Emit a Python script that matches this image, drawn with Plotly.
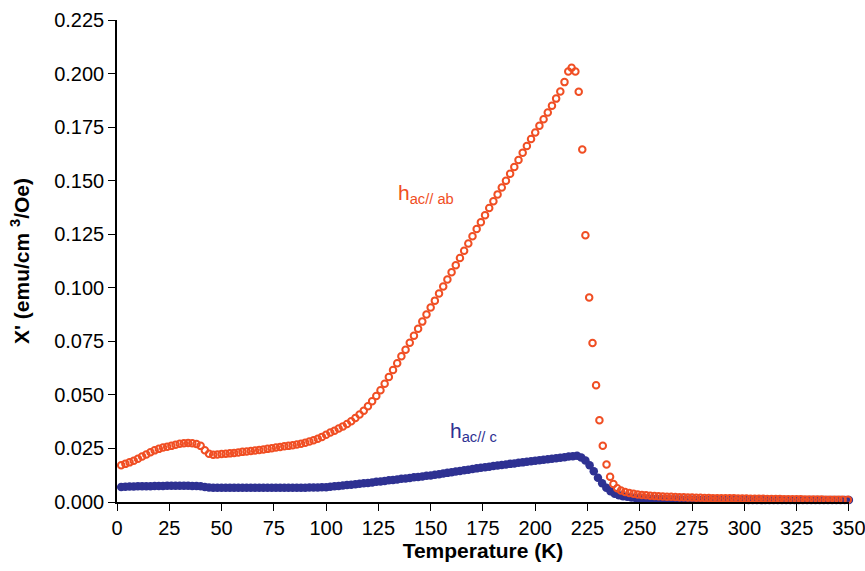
import plotly.graph_objects as go

# ---------------- data ----------------
# h_ac // ab  (orange open circles)
T_ab = [
    2, 4, 6, 8, 10, 12, 14, 16, 18, 20, 22, 24, 26, 28, 30, 32, 34, 36, 38, 40,
    42, 44, 46, 48, 50, 52, 54, 56, 58, 60, 62, 64, 66, 68, 70, 72, 74, 76, 78, 80,
    82, 84, 86, 88, 90, 92, 94, 96, 98, 100, 102, 104, 106, 108, 110, 112, 114, 116, 118, 120,
    122, 124, 126, 128, 130, 132, 134, 136, 138, 140, 142, 144, 146, 148, 150, 152, 154, 156, 158, 160,
    162, 164, 166, 168, 170, 172, 174, 176, 178, 180, 182, 184, 186, 188, 190, 192, 194, 196, 198, 200,
    202, 204, 206, 208, 210, 212, 214,
    215.8, 217.4, 219.2, 220.8, 222.5, 224.0, 225.8, 227.4, 229.1, 230.7, 232.3, 234.1, 235.8, 237.4, 239.2,
    241, 243, 245, 247, 249, 251, 253, 255, 257, 259, 261, 263, 265, 267, 269, 271, 273, 275, 277, 279,
    281, 283, 285, 287, 289, 291, 293, 295, 297, 299, 301, 303, 305, 307, 309, 311, 313, 315, 317, 319,
    321, 323, 325, 327, 329, 331, 333, 335, 337, 339, 341, 343, 345, 347, 349.5,
]
chi_ab = [
    .0172, .0178, .0185, .0193, .0202, .0212, .0222, .0232, .0241, .0248, .0254, .0258, .0262, .0267, .0272, .0274, .0275, .0274, .0271, .0262,
    .0242, .0225, .0221, .0222, .0224, .0225, .0227, .0229, .0231, .0234, .0236, .0238, .0240, .0243, .0245, .0248, .0251, .0254, .0257, .0260,
    .0262, .0265, .0268, .0272, .0277, .0282, .0288, .0295, .0304, .0314, .0324, .0333, .0343, .0353, .0364, .0377, .0392, .0408, .0426, .0447,
    .0470, .0495, .0522, .0552, .0584, .0616, .0648, .0680, .0711, .0743, .0776, .0809, .0842, .0875, .0908, .0940, .0973, .1006, .1039, .1072,
    .1105, .1139, .1173, .1207, .1241, .1274, .1306, .1339, .1372, .1404, .1436, .1468, .1500, .1532, .1564, .1597, .1630, .1662, .1694, .1725,
    .1756, .1787, .1818, .1850, .1883, .1916, .1960,
    .2010, .2027, .2010, .1915, .1645, .1245, .0955, .0742, .0545, .0382, .0263, .0175, .0118, .0084, .0064,
    .0054, .0047, .0042, .0038, .0035, .0033, .0031, .0029, .0028, .0027, .0026, .0025, .0024, .0023, .0022, .0022, .0021, .0021, .0020, .0020,
    .0019, .0019, .0018, .0018, .0018, .0017, .0017, .0017, .0016, .0016, .0016, .0015, .0015, .0015, .0015, .0014, .0014, .0014, .0014, .0013,
    .0013, .0013, .0013, .0013, .0012, .0012, .0012, .0012, .0012, .0011, .0011, .0011, .0011, .0011, .0011,
]

# h_ac // c  (dark blue, dense markers)
T_c = [
    2, 4, 6, 8, 10, 12, 14, 16, 18, 20, 22, 24, 26, 28, 30, 32, 34, 36, 38, 40,
    42, 44, 46, 48, 50, 52, 54, 56, 58, 60, 62, 64, 66, 68, 70, 72, 74, 76, 78, 80,
    82, 84, 86, 88, 90, 92, 94, 96, 98, 100, 102, 104, 106, 108, 110, 112, 114, 116, 118, 120,
    122, 124, 126, 128, 130, 132, 134, 136, 138, 140, 142, 144, 146, 148, 150, 152, 154, 156, 158, 160,
    162, 164, 166, 168, 170, 172, 174, 176, 178, 180, 182, 184, 186, 188, 190, 192, 194, 196, 198, 200,
    202, 204, 206, 208, 210, 212, 214, 216, 218, 220, 222, 224, 226, 228, 230, 232, 234, 236, 238, 240,
    242, 244, 246, 248, 250, 252, 254, 256, 258, 260, 262, 264, 266, 268, 270, 272, 274, 276, 278, 280,
    282, 284, 286, 288, 290, 292, 294, 296, 298, 300, 302, 304, 306, 308, 310, 312, 314, 316, 318, 320,
    322, 324, 326, 328, 330, 332, 334, 336, 338, 340, 342, 344, 346, 348, 350,
]
chi_c = [
    .0070, .0071, .0072, .0072, .0073, .0073, .0074, .0074, .0075, .0075, .0075, .0076, .0076, .0076, .0076, .0076, .0076, .0075, .0075, .0073,
    .0070, .0068, .0067, .0066, .0066, .0066, .0066, .0066, .0066, .0066, .0066, .0066, .0066, .0066, .0066, .0066, .0066, .0066, .0066, .0066,
    .0067, .0067, .0067, .0067, .0067, .0068, .0068, .0068, .0069, .0069, .0071, .0073, .0075, .0077, .0079, .0081, .0083, .0085, .0087, .0089,
    .0091, .0094, .0096, .0098, .0101, .0103, .0105, .0108, .0110, .0112, .0115, .0117, .0119, .0122, .0124, .0127, .0130, .0133, .0136, .0139,
    .0142, .0145, .0148, .0151, .0154, .0157, .0160, .0162, .0165, .0168, .0170, .0173, .0175, .0178, .0180, .0183, .0185, .0188, .0190, .0193,
    .0195, .0197, .0200, .0202, .0204, .0207, .0209, .0212, .0214, .0216, .0208, .0194, .0172, .0144, .0113, .0087, .0066, .0050, .0039, .0031,
    .0027, .0024, .0021, .0019, .0018, .0017, .0016, .0015, .0015, .0014, .0014, .0013, .0013, .0013, .0012, .0012, .0012, .0012, .0011, .0011,
    .0011, .0011, .0011, .0010, .0010, .0010, .0010, .0010, .0010, .0010, .0009, .0009, .0009, .0009, .0009, .0009, .0009, .0009, .0009, .0009,
    .0009, .0009, .0009, .0009, .0009, .0009, .0009, .0009, .0009, .0009, .0009, .0009, .0009, .0009, .0009,
]

assert len(T_ab) == len(chi_ab), (len(T_ab), len(chi_ab))
assert len(T_c) == len(chi_c), (len(T_c), len(chi_c))

x_ticks = [0, 25, 50, 75, 100, 125, 150, 175, 200, 225, 250, 275, 300, 325, 350]
y_ticks = [0.000, 0.025, 0.050, 0.075, 0.100, 0.125, 0.150, 0.175, 0.200, 0.225]

label_ab = "h<sub>ac// ab</sub>"
label_c = "h<sub>ac// c</sub>"
x_title = "<b>Temperature (K)</b>"
y_title = "<b>X' (emu/cm <sup>3</sup>/Oe)</b>"

ORANGE = "#F04E23"
BLUE = "#2E3192"
FONT = "Liberation Sans, Arial, sans-serif"

# ---------------- figure ----------------
fig = go.Figure()
fig.add_trace(go.Scatter(
    x=T_c, y=chi_c, mode="markers", cliponaxis=False,
    marker=dict(symbol="circle", size=8.5, color=BLUE, line=dict(width=0)),
    showlegend=False, hoverinfo="skip",
))
fig.add_trace(go.Scatter(
    x=T_ab, y=chi_ab, mode="markers", cliponaxis=False,
    marker=dict(symbol="circle-open", size=6.5, color=ORANGE, line=dict(width=2, color=ORANGE)),
    showlegend=False, hoverinfo="skip",
))

fig.add_annotation(x=133.5, y=0.1440, text=label_ab, showarrow=False,
                   xanchor="left", yanchor="middle",
                   font=dict(family=FONT, size=21, color=ORANGE))
fig.add_annotation(x=158.5, y=0.0325, text=label_c, showarrow=False,
                   xanchor="left", yanchor="middle",
                   font=dict(family=FONT, size=21, color=BLUE))

fig.update_layout(
    width=865, height=571,
    margin=dict(l=117, r=16, t=20, b=69, pad=0, autoexpand=False),
    paper_bgcolor="white", plot_bgcolor="white",
    font=dict(family=FONT, size=20, color="black"),
    xaxis=dict(
        range=[0, 350.05], tickvals=x_ticks, ticktext=[str(v) for v in x_ticks],
        showgrid=False, zeroline=False, ticklabeloverflow="allow", automargin=False,
        showline=True, linecolor="black", linewidth=1.5,
        ticks="outside", ticklen=7, tickwidth=1.2, tickcolor="black",
        tickfont=dict(family=FONT, size=20),
        title=dict(text=x_title, font=dict(family=FONT, size=21), standoff=3),
    ),
    yaxis=dict(
        range=[0, 0.225], tickvals=y_ticks, ticktext=[f"{v:.3f}" for v in y_ticks],
        showgrid=False, zeroline=False, automargin=False,
        showline=True, linecolor="black", linewidth=1.5,
        ticks="outside", ticklen=7, tickwidth=1.2, tickcolor="black",
        tickfont=dict(family=FONT, size=20),
        title=dict(text=y_title, font=dict(family=FONT, size=21), standoff=19),
    ),
)

fig.write_html("out.html")
